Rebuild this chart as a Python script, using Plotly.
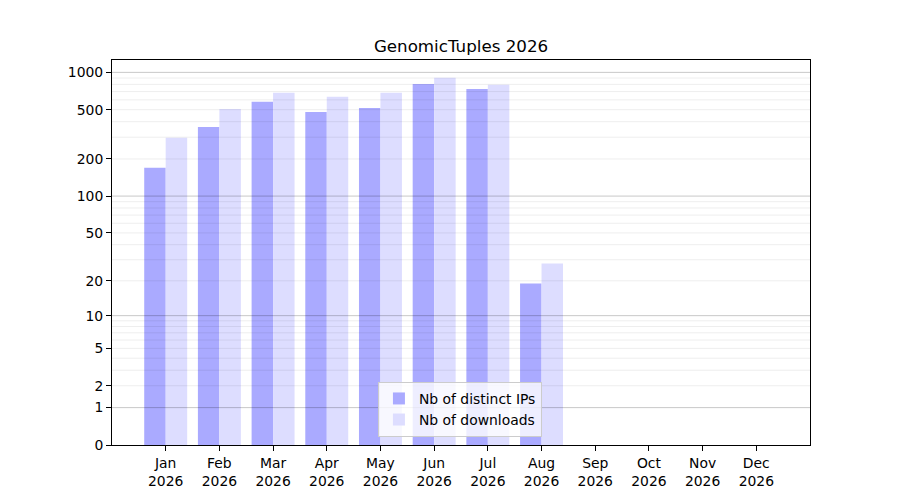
import plotly.graph_objects as go

# monthly stats for the package
months = ["Jan", "Feb", "Mar", "Apr", "May", "Jun", "Jul", "Aug", "Sep", "Oct", "Nov", "Dec"]
year = "2026"
distinct_ips = [170, 362, 580, 479, 516, 806, 735, 19, 0, 0, 0, 0]
downloads = [297, 506, 686, 636, 686, 906, 796, 28, 0, 0, 0, 0]

y_ticks = [0, 1, 2, 5, 10, 20, 50, 100, 200, 500, 1000]
major_grid = [1, 10, 100, 1000]
minor_grid = [2, 3, 4, 5, 6, 7, 8, 9, 20, 30, 40, 50, 60, 70, 80, 90,
              200, 300, 400, 500, 600, 700, 800, 900]

# y axis is log10(1 + n): plotted on a log axis with values shifted by one
def shift(vals):
    return [v + 1 for v in vals]

x = list(range(len(months)))
ticktext = [m + "<br>" + year for m in months]

fig = go.Figure()
fig.add_trace(go.Bar(x=x, y=shift(distinct_ips), name="Nb of distinct IPs",
                     marker=dict(color="#aaaaff", line=dict(width=0))))
fig.add_trace(go.Bar(x=x, y=shift(downloads), name="Nb of downloads",
                     marker=dict(color="#ddddff", line=dict(width=0))))

shapes = []
for g in minor_grid:
    shapes.append(dict(type="line", xref="paper", yref="y", x0=0, x1=1, y0=g + 1, y1=g + 1,
                       line=dict(color="rgba(0,0,0,0.07)", width=1), layer="above"))
for g in major_grid:
    shapes.append(dict(type="line", xref="paper", yref="y", x0=0, x1=1, y0=g + 1, y1=g + 1,
                       line=dict(color="rgba(0,0,0,0.22)", width=1), layer="above"))

# page body adds 8px, so the figure is 892x492
fig.update_layout(
    width=892, height=492,
    margin=dict(l=104, r=90, t=52, b=55),
    paper_bgcolor="white", plot_bgcolor="white",
    font=dict(family="DejaVu Sans", size=13.9, color="black"),
    title=dict(text="GenomicTuples 2026", xref="paper", x=0.5, xanchor="center",
               y=1 - 38 / 492, yanchor="middle", font=dict(size=16.7)),
    barmode="group", bargap=0.2, bargroupgap=0,
    shapes=shapes,
    showlegend=True,
    legend=dict(x=0.381, y=0.021, xanchor="left", yanchor="bottom",
                bgcolor="rgba(255,255,255,0.8)", bordercolor="#cccccc", borderwidth=1,
                font=dict(size=13.9), tracegroupgap=0, itemwidth=30),
)
fig.update_xaxes(range=[-1, 12], tickvals=x, ticktext=ticktext,
                 showgrid=False, zeroline=False,
                 showline=True, linecolor="black", linewidth=1, mirror=True,
                 ticks="outside", ticklen=5, tickcolor="black")
fig.update_yaxes(type="log", range=[0, 3.1],
                 tickvals=shift(y_ticks), ticktext=[str(t) for t in y_ticks],
                 showgrid=False, zeroline=False,
                 showline=True, linecolor="black", linewidth=1, mirror=True,
                 ticks="outside", ticklen=5, tickcolor="black")

fig.write_html("out.html")
